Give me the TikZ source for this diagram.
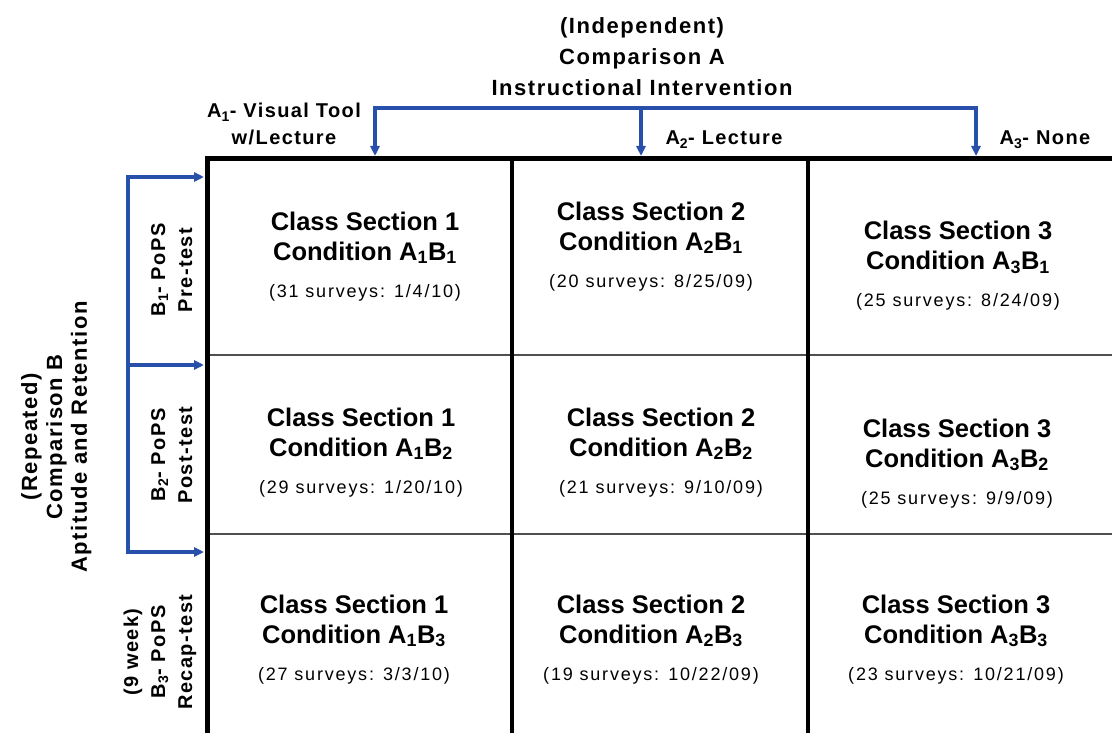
\documentclass[tikz,border=0pt]{standalone}
\usepackage{fontspec}
\setmainfont{Liberation Sans}
\newfontfamily\trackedfont{Liberation Sans}[LetterSpace=7]
\newfontfamily\surveyfont{Liberation Sans}[LetterSpace=10]
\usetikzlibrary{arrows.meta}
\definecolor{bracketblue}{RGB}{40,80,170}
\definecolor{rulegray}{RGB}{80,80,80}
% centred stack of lines whose baseline is that of the first line
\newcommand\stack[1]{\begin{tabular}[t]{@{}c@{}}#1\end{tabular}}
% contents of one design cell
\newcommand\celltext[4]{\stack{Class Section #1\\Condition A\textsubscript{#2}B\textsubscript{#3}\\[7pt]{\surveyfont\mdseries\fontsize{18}{20}\selectfont #4}}}
\begin{document}
\begin{tikzpicture}[x=1pt,y=-1pt,
  heading/.style={font=\trackedfont\bfseries\fontsize{22}{31}\selectfont, inner sep=0pt, anchor=base},
  sideheading/.style={heading, font=\trackedfont\bfseries\fontsize{22}{25}\selectfont, rotate=90},
  levellabel/.style={font=\trackedfont\bfseries\fontsize{20}{27}\selectfont, inner sep=0pt, anchor=base},
  sidelabel/.style={levellabel, rotate=90},
  cell/.style={font=\bfseries\fontsize{25.5}{30}\selectfont, inner sep=0pt, anchor=base},
  frame/.style={line width=5pt, line join=miter},
  divider/.style={line width=3.5pt},
  rowrule/.style={line width=1.6pt, rulegray},
  bracket/.style={bracketblue, line width=3.2pt},
  feed/.style={bracket, -{Triangle[length=10pt,width=9pt]}}]
\useasboundingbox (0,0) rectangle (1112,733);

% table rules
\draw[rowrule] (210,355) -- (1112,355);
\draw[rowrule] (210,534) -- (1112,534);
\draw[divider] (512,159) -- (512,733);
\draw[divider] (808,159) -- (808,733);
\coordinate (gTL) at (207.5,159);
\coordinate (gBL) at (207.5,733);
\coordinate (gTR) at (1112,159);
\draw[frame] (gBL) -- (gTL) -- (gTR);

% bracket for comparison A (columns)
\coordinate (barL) at (375,108);
\coordinate (barM) at (641,108);
\coordinate (barR) at (976,108);
\coordinate (tipA1) at (375,156);
\coordinate (tipA2) at (641,156);
\coordinate (tipA3) at (976,156);
\draw[bracket, line cap=rect] (barL) -- (barR);
\draw[feed] (barL) -- (tipA1);
\draw[feed] (barM) -- (tipA2);
\draw[feed] (barR) -- (tipA3);

% bracket for comparison B (rows)
\coordinate (sideT) at (128,177);
\coordinate (sideM) at (128,365);
\coordinate (sideB) at (128,552);
\coordinate (tipB1) at (204,177);
\coordinate (tipB2) at (204,365);
\coordinate (tipB3) at (204,552);
\draw[bracket, line cap=rect] (sideT) -- (sideB);
\draw[feed] (sideT) -- (tipB1);
\draw[feed] (sideM) -- (tipB2);
\draw[feed] (sideB) -- (tipB3);

% headings
\node[heading] (titleA) at (642,34) {\stack{(Independent)\\Comparison A\\Instructional Intervention}};
\node[sideheading] (titleB) at (37,437) {\stack{(Repeated)\\Comparison B\\Aptitude and Retention}};

% factor levels
\node[levellabel] (A1) at (284,118) {\stack{A\textsubscript{1}- Visual Tool\\w/Lecture}};
\node[levellabel] (A2) at (724,145) {A\textsubscript{2}- Lecture};
\node[levellabel] (A3) at (1045,145) {A\textsubscript{3}- None};
\node[sidelabel] (B1) at (165,270) {\stack{B\textsubscript{1}- PoPS\\Pre-test}};
\node[sidelabel] (B2) at (165,455) {\stack{B\textsubscript{2}- PoPS\\Post-test}};
\node[sidelabel] (B3) at (138,652) {\stack{(9 week)\\B\textsubscript{3}- PoPS\\Recap-test}};

% design cells
\node[cell] (c11) at (365,230) {\celltext{1}{1}{1}{(31 surveys: 1/4/10)}};
\node[cell] (c12) at (651,220) {\celltext{2}{2}{1}{(20 surveys: 8/25/09)}};
\node[cell] (c13) at (958,240) {\celltext{3}{3}{1}{(25 surveys: 8/24/09)}};
\node[cell] (c21) at (361,426) {\celltext{1}{1}{2}{(29 surveys: 1/20/10)}};
\node[cell] (c22) at (661,426) {\celltext{2}{2}{2}{(21 surveys: 9/10/09)}};
\node[cell] (c23) at (957,437) {\celltext{3}{3}{2}{(25 surveys: 9/9/09)}};
\node[cell] (c31) at (354,613) {\celltext{1}{1}{3}{(27 surveys: 3/3/10)}};
\node[cell] (c32) at (651,613) {\celltext{2}{2}{3}{(19 surveys: 10/22/09)}};
\node[cell] (c33) at (956,613) {\celltext{3}{3}{3}{(23 surveys: 10/21/09)}};
\end{tikzpicture}
\end{document}
